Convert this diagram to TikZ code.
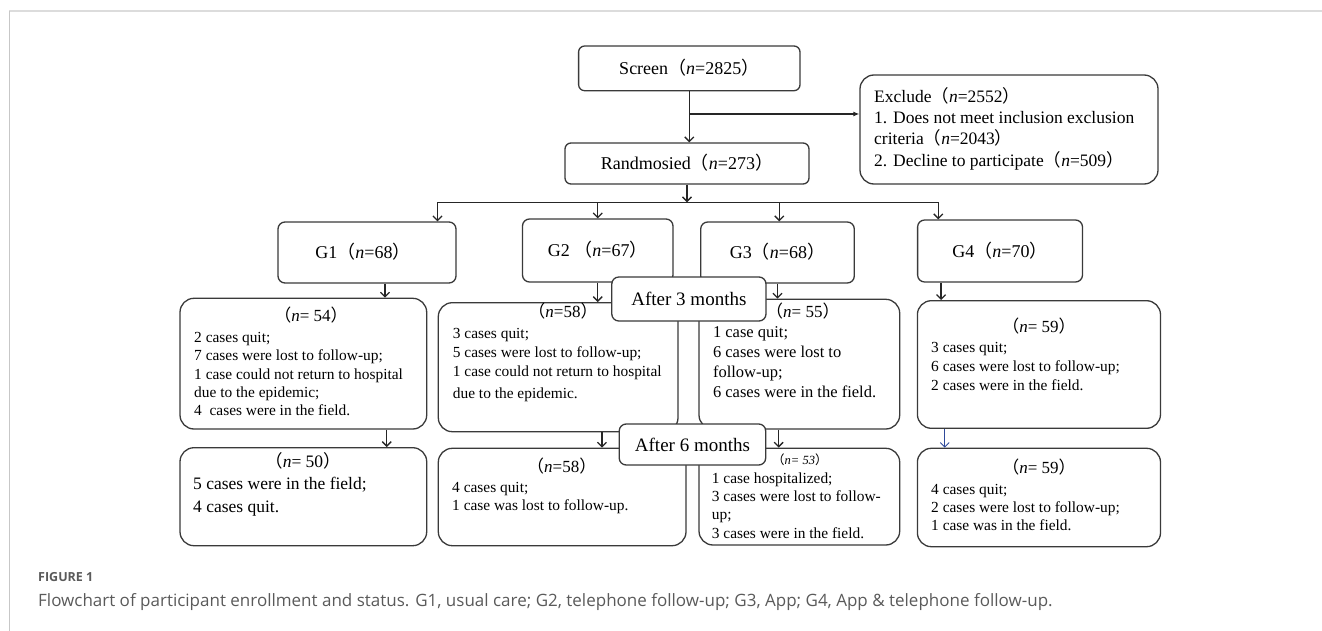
\documentclass[tikz,border=0pt]{standalone}
\usepackage{fontspec}
\setmainfont{Liberation Serif}
\newfontfamily\cjk{Noto Sans CJK SC}
\newfontfamily\capfont{Open Sans}
\usetikzlibrary{arrows.meta,fit,calc}
\newcommand\lpar{{\cjk （}}
\newcommand\rpar{{\cjk ）}}
\newcommand\nn[1]{\lpar\textit{n}#1\rpar}
\definecolor{lc}{HTML}{3A3A3A}
\definecolor{capgray}{HTML}{5A5A5A}
\definecolor{framegray}{HTML}{DCDCDC}
\definecolor{arrblue}{HTML}{2F4A9A}
\begin{document}
\begin{tikzpicture}[x=1pt,y=-1pt,
  box/.style={draw=lc, line width=1.3pt, fill=white, inner sep=0pt},
  rbig/.style={box, rounded corners=7pt},
  rstat/.style={box, rounded corners=14pt},
  big/.style={font=\fontsize{18}{22}\selectfont, anchor=base, inner sep=0pt},
  bigt/.style={font=\fontsize{19}{22}\selectfont, anchor=base, inner sep=0pt},
  ex/.style={font=\fontsize{17.5}{21}\selectfont, anchor=base west, inner sep=0pt},
  sm/.style={font=\fontsize{15.4}{18.4}\selectfont, anchor=base west, inner sep=0pt},
  md/.style={font=\fontsize{16.5}{20}\selectfont, anchor=base west, inner sep=0pt},
  lg/.style={font=\fontsize{17.5}{21}\selectfont, anchor=base west, inner sep=0pt},
  hd/.style={font=\fontsize{17}{20}\selectfont, anchor=base, inner sep=0pt},
  arr/.style={draw=black!85, line width=1.3pt, -{Straight Barb[length=4.5pt,width=9pt]}},
  arrx/.style={draw=black!85, line width=1.3pt, -{Latex[length=6pt,width=5pt]}},
  plain/.style={draw=black!85, line width=1.3pt}]
\useasboundingbox (0,0) rectangle (1322,631);
% frame
\draw[framegray, line width=1.5pt] (9,11) -- (1322,11);
\draw[black!22, line width=1.2pt] (9.5,11) -- (9.5,631);

% top boxes
\node[rbig, rounded corners=6pt, fit={(578.6,46) (800,90.7)}] (Scr) {};
\node[big] (ScrT) at ($(Scr.center)+(0,6.3)$) {Screen\nn{=2825}};
\node[rstat, fit={(860,75) (1158,184)}] (Exc) {};
\node[ex] (e1) at (874,102.7) {Exclude\nn{=2552}};
\node[ex] (e2) at (874,123.7) {1. Does not meet inclusion exclusion};
\node[ex] (e3) at (874,144.7) {criteria\nn{=2043}};
\node[ex] (e4) at (874,166.7) {2. Decline to participate\nn{=509}};
\node[rbig, rounded corners=6pt, fit={(565,143) (809,184)}] (Rand) {};
\node[big] (RandT) at ($(Rand.center)+(0,6.3)$) {Randmosied\nn{=273}};

% group boxes
\node[rbig, fit={(278,222) (456,283)}] (G1) {};
\node[big] (G1T) at ($(G1.center)+(-4,6.3)$) {G1\nn{=68}};
\node[rbig, fit={(522.5,219) (673,282)}] (G2) {};
\node[big] (G2T) at ($(G2.center)+(0,6.3)$) {G2 \nn{=67}};
\node[rbig, fit={(700.7,222) (854.3,283)}] (G3) {};
\node[big] (G3T) at ($(G3.center)+(0,6.3)$) {G3\nn{=68}};
\node[rbig, fit={(917.6,220) (1082.5,282)}] (G4) {};
\node[big] (G4T) at ($(G4.center)+(0,6.3)$) {G4\nn{=70}};

% connectors top
\coordinate (br) at (689,114);
\coordinate (hl) at (437.5,202.3);
\coordinate (hr) at (938.3,202.3);
\draw[arr] (Scr.south) -- (Scr.south |- Rand.north);
\draw[arrx] (br) -- (br -| Exc.west);
\draw[arr] (Rand.south) -- (Rand.south |- hl);
\draw[plain] (hl) -- (hr);
\draw[arr] (hl) -- (hl |- G1.north);
\draw[arr] (G2.north |- hl) -- (G2.north);
\draw[arr] ($(G3.north |- hl)+(1.8,0)$) -- ($(G3.north)+(1.8,0)$);
\draw[arr] (hr) -- (hr |- G4.north);

% status boxes after 3 months
\node[rstat, fit={(180,298.3) (426.7,429)}] (G1s) {};
\node[rstat, fit={(438.3,302.7) (678,431.7)}] (G2s) {};
\node[rstat, fit={(699,299.3) (899.7,429)}] (G3s) {};
\node[rstat, fit={(917.4,300.7) (1160.5,428.3)}] (G4s) {};

% status boxes after 6 months
\node[rstat, fit={(180,447.7) (426.7,545.7)}] (G1f) {};
\node[rstat, fit={(438.3,448.3) (686,545.7)}] (G2f) {};
\node[rstat, fit={(699,448.3) (899.7,545)}] (G3f) {};
\node[rstat, fit={(917.4,448.3) (1160.5,546.7)}] (G4f) {};

% connectors to status boxes
\draw[arr] ($(G1.south)+(18,0)$) -- ($(G1.south |- G1s.north)+(18,0)$);
\draw[arr] (G2.south) -- (G2.south |- G2s.north);
\draw[arr] (G3.south) -- (G3.south |- G3s.north);
\draw[arr] ($(G4.south)+(-59,0)$) -- ($(G4.south |- G4s.north)+(-59,0)$);
\draw[arr] ($(G1s.south)+(83.4,0)$) -- ($(G1s.south |- G1f.north)+(83.4,0)$);
\draw[arr] ($(G2s.south)+(43.8,0)$) -- ($(G2s.south |- G2f.north)+(43.8,0)$);
\draw[arr] ($(G3s.south)+(-20.7,0)$) -- ($(G3s.south |- G3f.north)+(-20.7,0)$);
\draw[arr, draw=arrblue, line width=0.9pt] ($(G4s.south)+(-94.2,0)$) -- ($(G4s.south |- G4f.north)+(-94.2,0)$);

% texts after 3 months
\node[hd] (g1sh) at (311,321.5) {\nn{= 54}};
\node[sm] (g1s1) at (194,342.2) {2 cases quit;};
\node[sm] (g1s2) at (194,360.9) {7 cases were lost to follow-up;};
\node[sm] (g1s3) at (194,379.2) {1 case could not return to hospital};
\node[sm] (g1s4) at (194,397.2) {due to the epidemic;};
\node[sm] (g1s5) at (194,415.9) {4\ \ cases were in the field.};

\node[hd] (g2sh) at (563,317.5) {\nn{=58}};
\node[sm] (g2s1) at (452.7,338.2) {3 cases quit;};
\node[sm] (g2s2) at (452.7,357.2) {5 cases were lost to follow-up;};
\node[sm] (g2s3) at (452.7,376.2) {1 case could not return to hospital};
\node[sm] (g2s4) at (452.7,398.2) {due to the epidemic.};

\node[hd, anchor=base west] (g3sh) at (766,317) {\nn{= 55}};
\node[md] (g3s1) at (712.8,337.5) {1 case quit;};
\node[md] (g3s2) at (712.8,357.5) {6 cases were lost to};
\node[md] (g3s3) at (712.8,377.5) {follow-up;};
\node[md] (g3s4) at (712.8,397.5) {6 cases were in the field.};

\node[hd] (g4sh) at (1039,332.8) {\nn{= 59}};
\node[sm] (g4s1) at (931,352.5) {3 cases quit;};
\node[sm] (g4s2) at (931,371.5) {6 cases were lost to follow-up;};
\node[sm] (g4s3) at (931,390.2) {2 cases were in the field.};

% texts after 6 months
\node[hd, font=\fontsize{17.5}{21}\selectfont] (g1fh) at (303,467.7) {\nn{= 50}};
\node[lg] (g1f1) at (193,489.7) {5 cases were in the field;};
\node[lg] (g1f2) at (193,512.4) {4 cases quit.};

\node[hd] (g2fh) at (561.7,472.5) {\nn{=58}};
\node[sm] (g2f1) at (452,492.2) {4 cases quit;};
\node[sm] (g2f2) at (452,510.9) {1 case was lost to follow-up.};

\node[anchor=base west, inner sep=0pt, font=\fontsize{12.5}{15}\selectfont\itshape] (g3fh) at (772,464) {\nn{= 53}};
\node[sm] (g3f1) at (711.7,483.2) {1 case hospitalized;};
\node[sm] (g3f2) at (711.7,501.5) {3 cases were lost to follow-};
\node[sm] (g3f3) at (711.7,519.9) {up;};
\node[sm] (g3f4) at (711.7,538.2) {3 cases were in the field.};

\node[hd] (g4fh) at (1039,473.8) {\nn{= 59}};
\node[sm] (g4f1) at (931,494.2) {4 cases quit;};
\node[sm] (g4f2) at (931,512.9) {2 cases were lost to follow-up;};
\node[sm] (g4f3) at (931,530.9) {1 case was in the field.};

% time labels on top
\node[rbig, fit={(611.8,277) (766,321)}] (A3) {};
\node[bigt] (A3T) at ($(A3.center)+(0,6.5)$) {After 3 months};
\node[rbig, fit={(619.2,424) (765.7,465)}] (A6) {};
\node[bigt] (A6T) at ($(A6.center)+(0,6.5)$) {After 6 months};

% caption
\node[anchor=base west, inner sep=0pt, text=capgray, font=\capfont\bfseries\fontsize{12.5}{15}\selectfont] (fig) at (38,581.5) {FIGURE 1};
\node[anchor=base west, inner sep=0pt, text=capgray, font=\capfont\fontsize{17}{20}\selectfont] (cap) at (38,606.5) {Flowchart of participant enrollment and status. G1, usual care; G2, telephone follow-up; G3, App; G4, App \& telephone follow-up.};
\end{tikzpicture}
\end{document}
